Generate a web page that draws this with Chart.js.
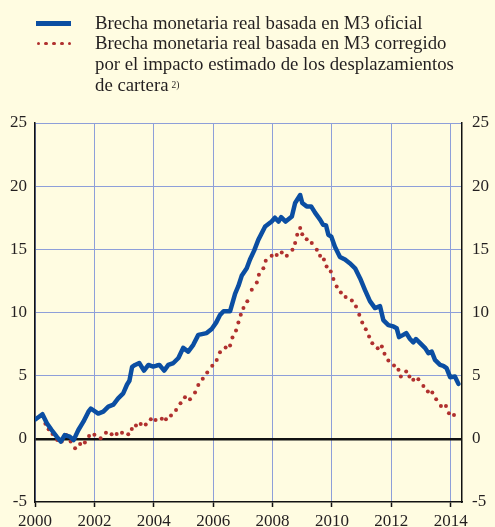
<!DOCTYPE html>
<html><head><meta charset="utf-8">
<script src="https://cdn.jsdelivr.net/npm/chart.js@4.4.1/dist/chart.umd.min.js"></script>
<style>
html,body{margin:0;padding:0;background:#fffce1;}
#wrap{position:relative;width:495px;height:527px;overflow:hidden;background:#fffce1;}
#c{position:absolute;left:0;top:0;}
#legtext{position:absolute;left:95px;top:12.5px;font-family:"Liberation Serif","Times New Roman",serif;font-size:18.8px;line-height:20.8px;color:#231f20;white-space:nowrap;}
#legtext sup{font-size:9.5px;position:relative;top:-3px;vertical-align:baseline;margin-left:3px;}
.sw{position:absolute;left:36px;top:20.5px;width:35px;height:5px;background:#0b4ea2;}
.dot{position:absolute;width:3.8px;height:3.8px;border-radius:50%;background:#b0302e;top:41.5px;}
</style></head><body>
<div id="wrap">
<canvas id="c" width="495" height="527"></canvas>
<div class="sw"></div>
<div class="dot" style="left:36.5px"></div><div class="dot" style="left:44.3px"></div><div class="dot" style="left:52.1px"></div><div class="dot" style="left:59.9px"></div><div class="dot" style="left:67.7px"></div>
<div id="legtext">Brecha monetaria real basada en M3 oficial<br>Brecha monetaria real basada en M3 corregido<br>por el impacto estimado de los desplazamientos<br>de cartera<sup>2)</sup></div>
</div>
<script>
// Series 1: official M3-based real money gap (year, %)
const blueYears = [2000.02,2000.25,2000.40,2000.56,2000.73,2000.87,2001.00,2001.17,2001.30,2001.46,2001.63,2001.80,2001.88,2002.13,2002.30,2002.47,2002.64,2002.80,2002.97,2003.10,2003.18,2003.27,2003.37,2003.51,2003.67,2003.82,2003.98,2004.10,2004.19,2004.35,2004.49,2004.66,2004.83,2004.99,2005.16,2005.33,2005.50,2005.78,2005.95,2006.10,2006.23,2006.35,2006.57,2006.68,2006.74,2006.85,2006.96,2007.13,2007.24,2007.38,2007.52,2007.75,2007.97,2008.08,2008.20,2008.29,2008.44,2008.65,2008.76,2008.93,2009.00,2009.15,2009.30,2009.43,2009.60,2009.70,2009.80,2009.88,2009.98,2010.10,2010.27,2010.44,2010.60,2010.78,2010.95,2011.11,2011.28,2011.45,2011.62,2011.73,2011.90,2012.07,2012.18,2012.26,2012.40,2012.50,2012.63,2012.74,2012.83,2012.97,2013.14,2013.25,2013.36,2013.47,2013.64,2013.75,2013.86,2013.98,2014.14,2014.26];
const blueValues = [1.55,1.95,1.24,0.70,0.17,-0.22,0.30,0.17,-0.10,0.70,1.36,2.15,2.40,2.00,2.15,2.55,2.70,3.20,3.60,4.30,4.60,5.70,5.85,6.00,5.40,5.85,5.72,5.80,5.85,5.40,5.85,6.00,6.40,7.20,6.90,7.44,8.23,8.37,8.70,9.20,9.80,10.10,10.10,11.00,11.50,12.10,12.90,13.50,14.20,14.90,15.75,16.80,17.20,17.50,17.20,17.55,17.20,17.60,18.67,19.30,18.67,18.40,18.40,17.90,17.35,16.95,16.90,16.15,16.00,15.20,14.40,14.20,13.90,13.50,12.70,11.80,10.90,10.35,10.50,9.40,9.00,8.90,8.76,8.05,8.23,8.37,7.90,7.64,7.90,7.57,7.18,6.78,6.90,6.25,5.85,5.78,5.60,4.88,4.93,4.35];
// Series 2: corrected for portfolio shifts (year, %)
const redYears = [2000.02,2000.24,2000.35,2000.46,2000.59,2000.75,2000.90,2001.05,2001.20,2001.35,2001.52,2001.68,2001.82,2002.00,2002.21,2002.39,2002.58,2002.75,2002.93,2003.14,2003.26,2003.40,2003.56,2003.73,2003.90,2004.06,2004.27,2004.41,2004.58,2004.75,2004.90,2005.05,2005.22,2005.39,2005.50,2005.65,2005.80,2005.97,2006.12,2006.23,2006.42,2006.57,2006.65,2006.77,2006.85,2006.93,2007.02,2007.15,2007.30,2007.47,2007.54,2007.69,2007.77,2007.97,2008.14,2008.31,2008.48,2008.67,2008.76,2008.83,2008.93,2009.00,2009.15,2009.32,2009.49,2009.60,2009.73,2009.82,2009.96,2010.05,2010.16,2010.30,2010.46,2010.67,2010.81,2010.92,2011.02,2011.14,2011.25,2011.36,2011.54,2011.68,2011.77,2011.90,2012.09,2012.24,2012.32,2012.50,2012.61,2012.74,2012.91,2013.08,2013.23,2013.38,2013.51,2013.67,2013.84,2013.94,2014.11];
const redValues = [1.57,1.84,1.20,0.76,0.39,-0.09,-0.22,0.31,-0.22,-0.74,-0.40,-0.30,0.23,0.33,0.05,0.49,0.36,0.39,0.49,0.36,0.78,1.05,1.18,1.13,1.55,1.50,1.58,1.55,1.84,2.29,2.82,3.30,3.14,3.66,4.27,4.75,5.25,5.78,6.25,6.86,7.23,7.39,8.02,8.57,9.20,9.82,10.35,10.90,11.80,12.38,12.99,13.50,14.10,14.50,14.55,14.75,14.50,14.97,15.50,16.15,16.69,16.20,15.80,15.50,14.97,14.50,14.20,13.65,13.25,12.65,12.06,11.58,11.22,10.95,10.48,9.82,9.20,8.68,8.10,7.57,7.18,7.30,6.73,6.20,5.80,5.46,4.93,5.33,4.93,4.67,4.72,4.19,3.74,3.66,3.14,2.60,2.60,2.03,1.89];
const xTicks = [2000,2002,2004,2006,2008,2010,2012,2014];
const yTicks = [-5,0,5,10,15,20,25];

const blueData = blueYears.map((x,i)=>({x:x,y:blueValues[i]}));
const redData = redYears.map((x,i)=>({x:x,y:redValues[i]}));
const tickFont = {family:'"Liberation Serif","Times New Roman",serif', size:17};
const txt = '#231f20';
const gridBlue = '#8e9fd9';

new Chart(document.getElementById('c'), {
  type:'line',
  data:{datasets:[
    {data:redData, showLine:false, pointRadius:2.0, pointBackgroundColor:'#b0302e', pointBorderWidth:0, order:2},
    {data:blueData, borderColor:'#0b4ea2', borderWidth:4.5, pointRadius:0, tension:0, borderJoinStyle:'round', borderCapStyle:'round', fill:false, order:1}
  ]},
  options:{
    responsive:false, animation:false, devicePixelRatio:1,
    layout:{padding:{top:123,left:0,right:0,bottom:0}},
    plugins:{legend:{display:false}, tooltip:{enabled:false}},
    scales:{
      x:{type:'linear', min:2000, max:2014.38,
        afterBuildTicks:s=>{s.ticks = xTicks.map(v=>({value:v}));},
        afterFit:s=>{s.height = 25;},
        ticks:{font:tickFont, color:txt, padding:4, maxRotation:0, autoSkip:false, callback:v=>String(v)},
        grid:{color:gridBlue, lineWidth:1, tickLength:5, tickColor:'#111', tickWidth:1.5, drawOnChartArea:true},
        border:{display:true, color:'#111', width:1.5}
      },
      y:{type:'linear', position:'left', min:-5, max:25,
        afterBuildTicks:s=>{s.ticks = yTicks.map(v=>({value:v}));},
        afterFit:s=>{s.width = 35;},
        ticks:{font:tickFont, color:txt, padding:8, callback:v=>String(v)},
        grid:{drawTicks:false, color:c=>c.tick && c.tick.value===0 ? '#111' : (c.tick && c.tick.value===-5 ? 'rgba(0,0,0,0)' : gridBlue), lineWidth:c=>c.tick && c.tick.value===0 ? 2.5 : 1},
        border:{display:true, color:'#111', width:1.5}
      },
      y2:{type:'linear', position:'right', min:-5, max:25,
        afterBuildTicks:s=>{s.ticks = yTicks.map(v=>({value:v}));},
        afterFit:s=>{s.width = 33;},
        ticks:{font:tickFont, color:txt, padding:10, callback:v=>String(v)},
        grid:{display:false, drawTicks:false},
        border:{display:true, color:'#111', width:1.5}
      }
    }
  }
});
</script>
</body></html>
